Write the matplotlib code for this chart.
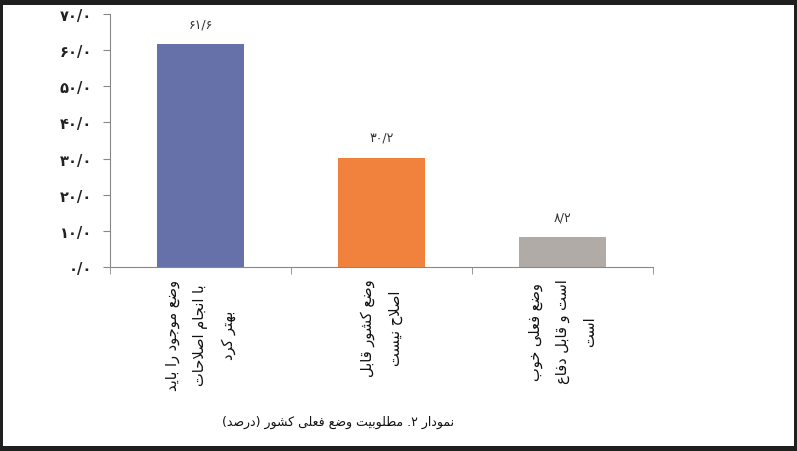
import re
import matplotlib
matplotlib.use("Agg")
import matplotlib.pyplot as plt
from matplotlib.patches import Rectangle
from matplotlib.ticker import FixedLocator, FuncFormatter

# data (logical order persian text)
categories = [
    "وضع موجود را باید\nبا انجام اصلاحات\nبهتر کرد",
    "وضع کشور قابل\nاصلاح نیست",
    "وضع فعلی خوب\nاست و قابل دفاع\nاست",
]
values = [61.6, 30.2, 8.2]
colors = ["#6571a8", "#f0823e", "#b1aba7"]
yticks = [0, 10, 20, 30, 40, 50, 60, 70]
caption = "نمودار ۲. مطلوبیت وضع فعلی کشور (درصد)"

# contextual forms: (isolated, final, initial, medial); 2-tuples join only to the right
FORMS = {
    "ا": (0xFE8D, 0xFE8E), "ب": (0xFE8F, 0xFE90, 0xFE91, 0xFE92),
    "ت": (0xFE95, 0xFE96, 0xFE97, 0xFE98), "ج": (0xFE9D, 0xFE9E, 0xFE9F, 0xFEA0),
    "ح": (0xFEA1, 0xFEA2, 0xFEA3, 0xFEA4), "خ": (0xFEA5, 0xFEA6, 0xFEA7, 0xFEA8),
    "د": (0xFEA9, 0xFEAA), "ر": (0xFEAD, 0xFEAE),
    "س": (0xFEB1, 0xFEB2, 0xFEB3, 0xFEB4), "ش": (0xFEB5, 0xFEB6, 0xFEB7, 0xFEB8),
    "ص": (0xFEB9, 0xFEBA, 0xFEBB, 0xFEBC), "ض": (0xFEBD, 0xFEBE, 0xFEBF, 0xFEC0),
    "ط": (0xFEC1, 0xFEC2, 0xFEC3, 0xFEC4), "ع": (0xFEC9, 0xFECA, 0xFECB, 0xFECC),
    "ف": (0xFED1, 0xFED2, 0xFED3, 0xFED4), "ق": (0xFED5, 0xFED6, 0xFED7, 0xFED8),
    "ل": (0xFEDD, 0xFEDE, 0xFEDF, 0xFEE0), "م": (0xFEE1, 0xFEE2, 0xFEE3, 0xFEE4),
    "ن": (0xFEE5, 0xFEE6, 0xFEE7, 0xFEE8), "ه": (0xFEE9, 0xFEEA, 0xFEEB, 0xFEEC),
    "و": (0xFEED, 0xFEEE), "ک": (0xFB8E, 0xFB8F, 0xFB90, 0xFB91),
    "ی": (0xFBFC, 0xFBFD, 0xFBFE, 0xFBFF),
}


def shape(s):
    out = []
    i = 0
    while i < len(s):
        c = s[i]
        if c not in FORMS:
            out.append(c)
            i += 1
            continue
        prev = s[i - 1] if i > 0 else ""
        jp = prev in FORMS and len(FORMS[prev]) == 4
        if c == "ل" and i + 1 < len(s) and s[i + 1] == "ا":
            out.append(chr(0xFEFC if jp else 0xFEFB))
            i += 2
            continue
        nxt = s[i + 1] if i + 1 < len(s) else ""
        f = FORMS[c]
        jn = len(f) == 4 and nxt in FORMS
        if jp and jn:
            out.append(chr(f[3]))
        elif jp:
            out.append(chr(f[1]))
        elif jn:
            out.append(chr(f[2]))
        else:
            out.append(chr(f[0]))
        i += 1
    return "".join(out)


def visual(text):
    lines = []
    for line in text.split("\n"):
        toks = re.findall(r"[\u06F0-\u06F9]+(?:[/.][\u06F0-\u06F9]+)*|.", shape(line))
        toks = [{"(": ")", ")": "("}.get(t, t) for t in reversed(toks)]
        lines.append("".join(toks))
    return "\n".join(lines)


def fa_num(v):
    s = f"{v:.1f}".replace(".", "/")
    return s.translate(str.maketrans("0123456789", "۰۱۲۳۴۵۶۷۸۹"))


fig = plt.figure(figsize=(7.97, 4.52), dpi=100, facecolor="#1f1f1f")
fig.patches.append(Rectangle((3 / 797, 5 / 452), 791 / 797, 441 / 452,
                             transform=fig.transFigure, facecolor="white",
                             edgecolor="none", zorder=-5))
ax = fig.add_axes([110 / 797, 1 - 268 / 452, 543 / 797, 253 / 452])
ax.set_facecolor("white")

x = list(range(len(values)))
bars = ax.bar(x, values, width=0.48, color=colors, zorder=2)
for b, v in zip(bars, values):
    ax.annotate(fa_num(v), (b.get_x() + b.get_width() / 2, v),
                xytext=(0, 10), textcoords="offset points",
                ha="center", va="bottom", fontsize=9, color="#333333")

ax.set_xlim(-0.5, 2.5)
ax.set_ylim(0, 70)
ax.yaxis.set_major_locator(FixedLocator(yticks))
ax.yaxis.set_major_formatter(FuncFormatter(lambda v, p: fa_num(v)))
for lab in ax.get_yticklabels():
    lab.set_fontweight("bold")
ax.tick_params(axis="y", length=5, color="#888888", labelsize=10.5,
               labelcolor="#222222", pad=8)
ax.set_xticks([])
ax.xaxis.set_minor_locator(FixedLocator([-0.5, 0.5, 1.5, 2.5]))
ax.tick_params(axis="x", which="minor", length=5, color="#888888")
for side in ["top", "right"]:
    ax.spines[side].set_visible(False)
for side in ["left", "bottom"]:
    ax.spines[side].set_color("#888888")

for xi, cat in zip(x, categories):
    ax.text(xi, -3.2, visual(cat), rotation=90, ha="center", va="top",
            multialignment="center", fontsize=10.5, linespacing=2.0,
            color="#111111", rotation_mode="default")

fig.text(338 / 797, 1 - 422 / 452, visual(caption), ha="center", va="center",
         fontsize=9, color="#111111")

fig.savefig("out.png", dpi=100, facecolor=fig.get_facecolor())
